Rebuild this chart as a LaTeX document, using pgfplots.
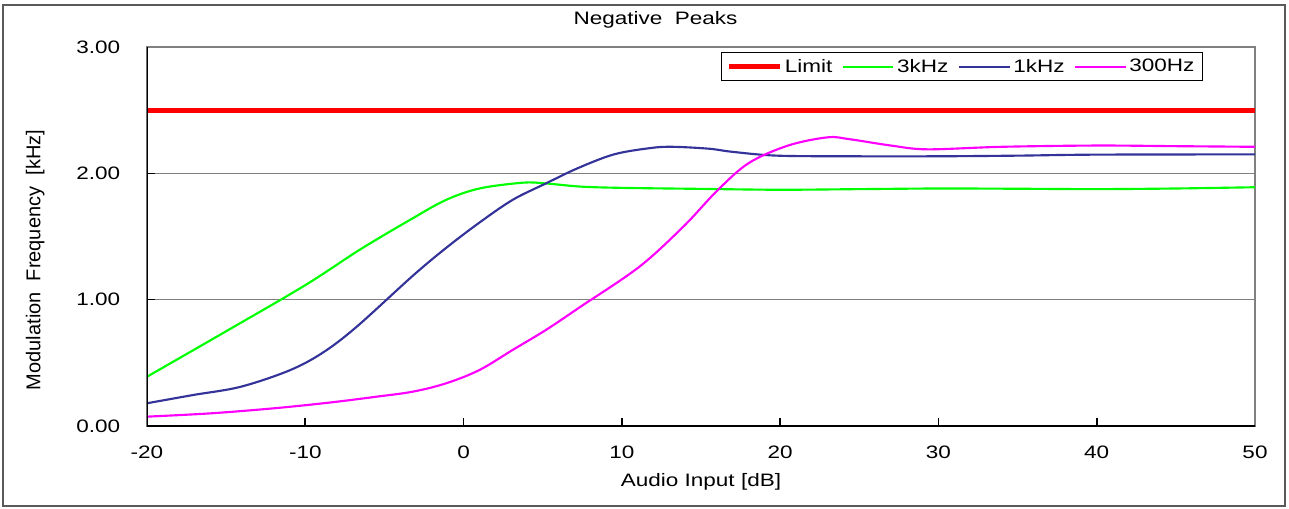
\documentclass[border=0pt]{standalone}
\usepackage{fontspec}
\setmainfont{Liberation Sans}[FakeStretch=1.25]
\newfontfamily\plainsans{Liberation Sans}
\usepackage{pgfplots}
\pgfplotsset{compat=1.18}

\definecolor{limitred}{RGB}{255,0,0}
\definecolor{khzgreen}{RGB}{0,255,0}
\definecolor{khzblue}{RGB}{51,51,153}
\definecolor{hzmagenta}{RGB}{255,0,255}
\definecolor{gridgray}{RGB}{128,128,128}

% 1 px of the reference = 0.75pt
\begin{document}
\begin{tikzpicture}
\path (0,0) rectangle (966.75pt,381pt);
\begin{axis}[
  at={(110.25pt,61.5pt)}, anchor=south west,
  scale only axis, width=831pt, height=284.25pt,
  xmin=-20, xmax=50, ymin=0, ymax=3,
  xtick={-20,-10,...,50}, ytick={0,1,2,3},
  font=\fontsize{13.5}{16}\selectfont,
  /pgf/number format/assume math mode=true,
  yticklabel style={/pgf/number format/fixed, /pgf/number format/fixed zerofill,
    /pgf/number format/precision=2, inner sep=0pt, xshift=-20pt},
  xticklabel style={inner sep=0pt, yshift=-15pt},
  tick align=inside, xtick pos=bottom, ytick pos=left,
  major tick length=6pt,
  every tick/.style={black, line width=1.2pt},
  ymajorgrids, major grid style={gridgray, line width=1.2pt},
  axis line style={gridgray, line width=1.2pt},
  title={Negative\ \ Peaks},
  title style={at={(axis description cs:0.459,1.05)}, anchor=center, yshift=0pt, inner sep=0pt},
  xlabel={Audio Input [dB]},
  xlabel style={at={(axis description cs:0.5,-0.148)}, anchor=center},
  ylabel={Modulation\ \ Frequency\ \ [kHz]},
  ylabel style={at={(axis description cs:-0.101,0.438)}, anchor=center,
    font=\plainsans\fontsize{15}{17}\selectfont},
  legend columns=4,
  legend style={at={(axis description cs:0.953,0.987)}, anchor=north east,
    draw=black, line width=0.8pt, inner xsep=4pt, inner ysep=3pt,
    font=\fontsize{13.5}{16}\selectfont,
    /tikz/every even column/.append style={column sep=5pt}},
  legend image code/.code={\draw[#1] (0pt,0pt) -- (38pt,0pt);},
  smooth, tension=0.55,
]
\addplot[limitred, line width=3.5pt, sharp plot] coordinates {(-20,2.5) (50,2.5)};
\addlegendentry{Limit}

\addplot[khzgreen, line width=1.6pt] coordinates {
  (-20,0.39) (-15,0.75) (-10,1.115) (-6.5,1.40) (-3.2,1.645)
  (-1.1,1.79) (1,1.88) (3.75,1.926) (5.2,1.92) (7.4,1.895) (10,1.885)
  (15,1.877) (20,1.87) (25,1.875) (30,1.88) (35,1.878) (40,1.875) (45,1.88) (50,1.89)
};
\addlegendentry{3kHz}

\addplot[khzblue, line width=1.6pt] coordinates {
  (-20,0.18) (-17.1,0.245) (-14.1,0.31) (-11,0.44) (-8.9,0.58) (-6.75,0.786)
  (-3.2,1.19) (-1.1,1.41) (1,1.61) (3.1,1.79) (5.2,1.92) (7.2,2.04) (9.5,2.15)
  (11.8,2.20) (13.2,2.21) (15.5,2.195) (17,2.17) (19.8,2.14) (24.4,2.135)
  (30,2.135) (35,2.14) (40,2.148) (50,2.15)
};
\addlegendentry{1kHz}

\addplot[hzmagenta, line width=1.6pt] coordinates {
  (-20,0.074) (-16,0.1) (-12,0.14) (-8.5,0.185) (-5.5,0.232) (-3.2,0.272)
  (-1.1,0.338) (1,0.443) (3.1,0.602) (5.2,0.76) (7.4,0.945) (11.1,1.26)
  (13.9,1.58) (16,1.86) (18,2.08) (20.5,2.22) (23,2.285) (24.4,2.27)
  (27,2.22) (29.3,2.19) (34,2.21) (40,2.22) (45,2.215) (50,2.21)
};
\addlegendentry{300Hz}

\draw[black, line width=1.5pt] (rel axis cs:0,1) -- (rel axis cs:0,0) -- (rel axis cs:1,0);
\end{axis}
\draw[gridgray!70!black, line width=1.2pt] (2.25pt,1.5pt) rectangle (963.75pt,377.25pt);
\end{tikzpicture}
\end{document}
